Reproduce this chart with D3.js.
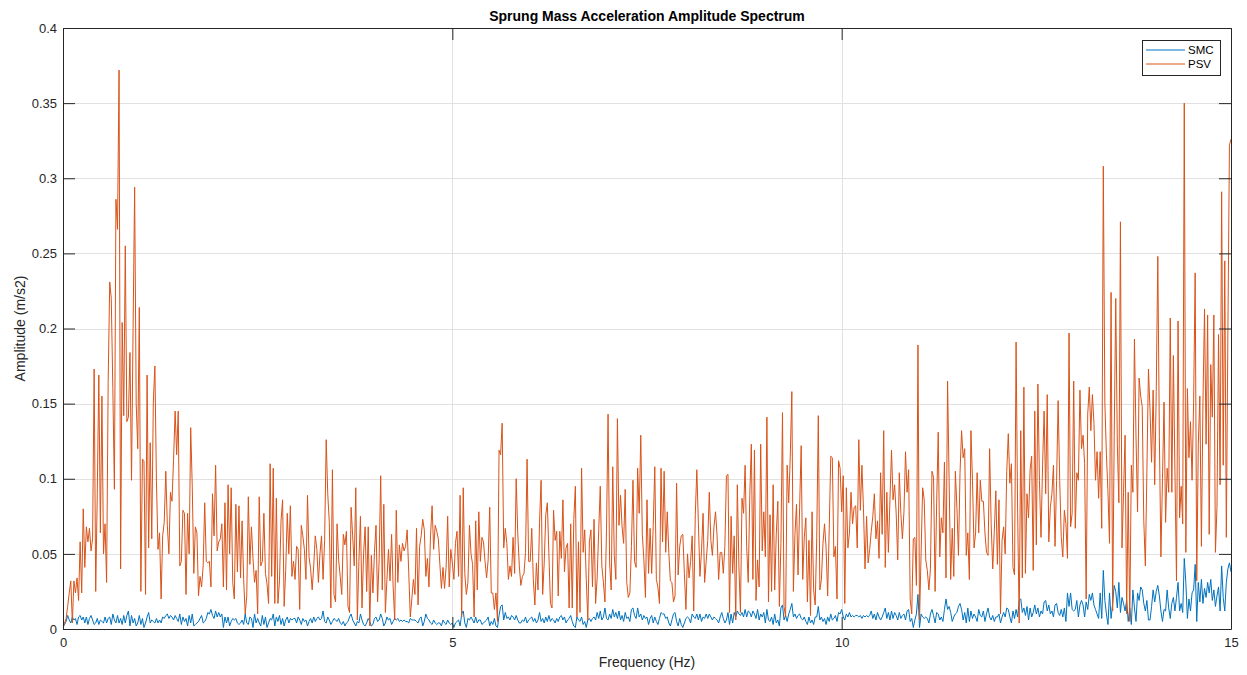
<!DOCTYPE html>
<html>
<head>
<meta charset="utf-8">
<title>Sprung Mass Acceleration Amplitude Spectrum</title>
<script src="https://cdn.jsdelivr.net/npm/d3@7"></script>
<style>
  html, body { margin: 0; padding: 0; background: #ffffff; }
  svg { display: block; font-family: "Liberation Sans", Arial, Helvetica, sans-serif; }
</style>
</head>
<body>
<svg id="chart" width="1247" height="675"></svg>
<script>
// ---- data ---------------------------------------------------------------
const freqStep = 0.02;                       // Hz between spectrum bins
const seriesNames = ["SMC", "PSV"];
const seriesColors = ["#0072BD", "#D95319"];
const xTickValues = [0, 5, 10, 15];
const xTickLabels = ["0", "5", "10", "15"];
const yTickValues = [0, 0.05, 0.1, 0.15, 0.2, 0.25, 0.3, 0.35, 0.4];
const yTickLabels = ["0", "0.05", "0.1", "0.15", "0.2", "0.25", "0.3", "0.35", "0.4"];

// amplitude (m/s2), one row per 0.5 Hz band (25 bins each), plus the 15 Hz bin
const smcBands = [
  [.001,.003,.005,.009,.006,.004,.008,.006,.007,.003,.008,.009,.006,.008,.004,.008,.003,.007,.009,.006,.003,.004,.007,.003,.006],
  [.005,.004,.008,.004,.007,.008,.003,.010,.006,.004,.009,.004,.007,.003,.009,.004,.009,.012,.002,.009,.004,.007,.002,.004,.009],
  [.003,.007,.001,.004,.008,.011,.004,.006,.005,.004,.007,.004,.006,.004,.008,.007,.009,.010,.007,.009,.008,.006,.009,.007,.005],
  [.010,.003,.008,.005,.007,.002,.009,.004,.010,.002,.003,.004,.005,.007,.009,.004,.005,.007,.011,.010,.013,.009,.007,.012,.008],
  [.011,.008,.010,.001,.008,.004,.008,.002,.005,.007,.006,.007,.004,.003,.004,.006,.003,.010,.004,.003,.008,.007,.001,.010,.004],
  [.007,.004,.002,.009,.003,.008,.001,.004,.007,.006,.010,.002,.008,.005,.009,.003,.007,.002,.006,.008,.004,.007,.006,.007,.007],
  [.004,.008,.006,.003,.007,.005,.006,.002,.005,.007,.004,.008,.005,.007,.008,.006,.007,.012,.005,.004,.008,.006,.003,.005,.007],
  [.006,.005,.007,.004,.003,.005,.002,.004,.005,.008,.010,.006,.004,.002,.005,.004,.010,.006,.003,.002,.004,.007,.005,.002,.003],
  [.007,.008,.005,.006,.010,.007,.002,.004,.008,.006,.007,.003,.005,.007,.006,.007,.005,.006,.005,.006,.005,.005,.004,.007,.006],
  [.006,.006,.005,.004,.007,.008,.002,.005,.010,.007,.006,.004,.003,.006,.004,.003,.004,.004,.002,.006,.004,.003,.006,.004,.003],
  [.004,.001,.004,.005,.006,.002,.010,.012,.004,.001,.007,.006,.008,.006,.004,.008,.004,.006,.006,.003,.004,.005,.006,.008,.002],
  [.005,.003,.007,.002,.001,.009,.015,.016,.006,.011,.007,.008,.006,.009,.008,.006,.009,.006,.004,.004,.006,.005,.008,.004,.006],
  [.007,.008,.005,.007,.004,.006,.011,.005,.007,.004,.008,.005,.009,.005,.007,.006,.004,.007,.005,.008,.009,.006,.008,.004,.006],
  [.007,.009,.005,.002,.001,.008,.006,.005,.008,.003,.005,.001,.006,.007,.005,.007,.008,.006,.011,.007,.012,.006,.008,.014,.007],
  [.006,.010,.007,.013,.008,.011,.007,.012,.006,.009,.005,.011,.007,.008,.005,.013,.014,.009,.007,.014,.008,.010,.006,.009,.007],
  [.008,.003,.007,.009,.004,.008,.005,.003,.007,.011,.010,.010,.007,.008,.004,.002,.006,.010,.011,.005,.002,.007,.003,.001,.004],
  [.007,.008,.007,.004,.010,.008,.007,.010,.006,.010,.005,.008,.007,.010,.007,.010,.008,.006,.008,.007,.006,.004,.008,.011,.007],
  [.004,.006,.011,.003,.010,.004,.011,.008,.012,.010,.009,.011,.008,.013,.008,.012,.011,.008,.012,.010,.007,.013,.006,.010,.008],
  [.011,.004,.013,.006,.005,.008,.003,.010,.004,.006,.002,.014,.016,.006,.009,.005,.010,.013,.017,.008,.010,.007,.009,.010,.007],
  [.006,.008,.005,.003,.008,.004,.006,.003,.008,.008,.015,.006,.008,.005,.007,.003,.008,.005,.010,.006,.007,.009,.005,.011,.010],
  [.013,.008,.006,.010,.008,.011,.008,.009,.008,.009,.009,.008,.009,.007,.009,.008,.009,.008,.009,.012,.007,.010,.006,.011,.008],
  [.006,.008,.011,.014,.007,.011,.006,.012,.007,.011,.009,.006,.011,.007,.009,.010,.006,.012,.013,.005,.007,.001,.006,.010,.023],
  [.001,.010,.008,.007,.008,.007,.004,.010,.013,.009,.004,.011,.010,.006,.008,.005,.013,.020,.013,.015,.011,.005,.008,.010,.011],
  [.015,.017,.013,.006,.011,.004,.014,.005,.012,.007,.010,.008,.005,.013,.009,.008,.012,.005,.010,.014,.008,.006,.009,.005,.008],
  [.008,.010,.004,.008,.011,.008,.014,.013,.008,.004,.012,.007,.013,.008,.019,.020,.011,.014,.009,.015,.006,.014,.008,.011,.016],
  [.010,.014,.008,.012,.010,.018,.019,.012,.016,.010,.012,.008,.016,.017,.011,.009,.013,.008,.014,.005,.024,.015,.024,.013,.012],
  [.013,.019,.008,.016,.019,.016,.008,.018,.013,.023,.019,.024,.016,.013,.010,.007,.024,.007,.039,.019,.010,.003,.024,.007,.017],
  [.029,.025,.014,.031,.011,.021,.017,.012,.019,.005,.014,.003,.026,.014,.005,.024,.019,.028,.026,.017,.012,.019,.006,.006,.015],
  [.026,.018,.025,.029,.022,.012,.005,.013,.012,.026,.014,.007,.017,.021,.012,.021,.031,.012,.017,.011,.047,.031,.007,.020,.012],
  [.024,.026,.043,.005,.031,.018,.033,.017,.027,.021,.031,.024,.033,.019,.026,.015,.022,.028,.012,.042,.021,.012,.031,.040,.044],
  [.038]
];

const psvBands = [
  [.001,.004,.007,.015,.024,.032,.004,.032,.024,.034,.019,.058,.024,.080,.041,.068,.058,.067,.052,.060,.173,.025,.090,.169,.064],
  [.155,.050,.070,.031,.164,.231,.220,.160,.093,.286,.266,.372,.040,.204,.142,.255,.138,.141,.184,.099,.200,.294,.150,.120,.214],
  [.025,.113,.112,.023,.169,.054,.124,.060,.151,.175,.098,.053,.064,.020,.062,.071,.105,.069,.050,.091,.085,.113,.145,.116,.145],
  [.042,.045,.079,.077,.023,.077,.050,.134,.095,.037,.068,.064,.022,.035,.028,.042,.084,.045,.044,.045,.028,.090,.062,.109,.052],
  [.058,.060,.070,.028,.084,.026,.096,.050,.094,.031,.020,.083,.038,.082,.034,.072,.033,.010,.022,.088,.043,.068,.047,.031,.039],
  [.010,.088,.042,.045,.077,.037,.030,.017,.110,.035,.107,.017,.087,.017,.032,.072,.086,.015,.039,.077,.050,.082,.035,.045,.033],
  [.055,.053,.013,.069,.062,.053,.033,.089,.048,.040,.026,.042,.062,.053,.031,.050,.062,.033,.059,.126,.090,.071,.014,.106,.023],
  [.018,.070,.046,.035,.023,.063,.056,.065,.015,.011,.081,.062,.042,.094,.006,.045,.075,.014,.050,.068,.025,.068,.002,.049,.024],
  [.051,.069,.018,.046,.102,.026,.083,.011,.033,.053,.032,.063,.028,.006,.079,.031,.056,.045,.057,.052,.055,.066,.038,.008,.020],
  [.033,.023,.067,.016,.055,.062,.073,.066,.035,.047,.028,.062,.082,.053,.069,.065,.060,.043,.027,.041,.027,.041,.075,.028,.053],
  [.044,.033,.057,.065,.035,.089,.008,.094,.037,.023,.031,.069,.050,.043,.008,.072,.026,.078,.045,.061,.058,.045,.034,.046,.081],
  [.024,.024,.013,.024,.005,.119,.116,.137,.054,.067,.057,.033,.042,.035,.061,.037,.100,.064,.042,.029,.035,.037,.051,.113,.045],
  [.045,.067,.033,.016,.044,.026,.071,.099,.023,.044,.076,.084,.050,.017,.014,.079,.059,.065,.022,.065,.047,.086,.038,.054,.057],
  [.014,.070,.014,.073,.095,.008,.058,.011,.107,.051,.066,.033,.006,.058,.066,.028,.073,.017,.034,.066,.095,.042,.031,.018,.066],
  [.143,.044,.026,.108,.049,.033,.140,.069,.089,.068,.057,.093,.031,.021,.024,.055,.099,.045,.041,.107,.077,.129,.063,.046,.021],
  [.086,.037,.067,.037,.069,.108,.033,.028,.017,.107,.058,.105,.051,.078,.051,.032,.031,.018,.022,.097,.036,.055,.062,.063,.037],
  [.013,.050,.034,.045,.062,.012,.076,.106,.070,.035,.052,.077,.031,.045,.059,.091,.059,.049,.068,.078,.062,.033,.051,.051,.037],
  [.055,.102,.103,.011,.075,.037,.062,.006,.096,.042,.011,.087,.077,.109,.055,.031,.089,.123,.033,.119,.019,.046,.028,.123,.052],
  [.078,.048,.141,.018,.076,.025,.096,.026,.063,.085,.015,.057,.144,.015,.008,.109,.084,.115,.158,.025,.063,.083,.036,.081,.122],
  [.033,.061,.074,.018,.059,.009,.078,.026,.016,.061,.142,.026,.033,.057,.070,.054,.022,.066,.115,.114,.048,.055,.020,.112,.107],
  [.078,.102,.017,.094,.054,.064,.091,.070,.081,.082,.054,.126,.079,.109,.080,.040,.075,.044,.053,.065,.075,.090,.060,.072,.047],
  [.104,.063,.132,.041,.091,.051,.086,.119,.086,.096,.077,.046,.104,.077,.060,.078,.118,.091,.106,.020,.010,.060,.061,.029,.189],
  [.006,.050,.094,.086,.046,.039,.026,.040,.105,.101,.025,.084,.131,.048,.074,.064,.111,.034,.165,.099,.033,.067,.035,.105,.081],
  [.049,.104,.132,.114,.120,.049,.064,.033,.132,.099,.054,.064,.104,.064,.099,.085,.085,.064,.051,.049,.120,.070,.040,.065,.092],
  [.043,.086,.010,.059,.068,.050,.105,.130,.097,.110,.041,.036,.191,.077,.004,.132,.034,.161,.037,.090,.074,.106,.115,.039,.145],
  [.056,.163,.099,.061,.109,.145,.090,.156,.058,.081,.090,.109,.055,.099,.152,.099,.061,.048,.079,.070,.047,.197,.068,.077,.165],
  [.067,.104,.099,.159,.120,.129,.110,.020,.143,.161,.132,.156,.137,.099,.118,.087,.118,.067,.308,.151,.116,.091,.057,.224,.012],
  [.128,.220,.123,.084,.271,.054,.091,.129,.010,.091,.005,.109,.091,.193,.128,.078,.167,.155,.148,.072,.042,.105,.173,.146,.111],
  [.159,.096,.158,.248,.128,.048,.100,.151,.071,.107,.091,.207,.091,.182,.105,.032,.205,.074,.095,.070,.350,.051,.160,.114,.138],
  [.099,.151,.237,.032,.123,.155,.055,.151,.213,.123,.209,.063,.176,.141,.209,.051,.081,.196,.096,.291,.109,.245,.061,.197,.322],
  [.326]
];

// ---- layout -------------------------------------------------------------
const W = 1247, H = 675;
const plot = { left: 63, right: 1231, top: 28, bottom: 629 };
const axisColor = "#262626";
const gridColor = "#e1e1e1";
const tickLen = 12;

const svg = d3.select("#chart");
svg.append("rect").attr("width", W).attr("height", H).attr("fill", "#ffffff");

const x = d3.scaleLinear().domain([0, 15]).range([plot.left, plot.right]);
const y = d3.scaleLinear().domain([0, 0.4]).range([plot.bottom, plot.top]);

const toPoints = bands => bands.flat().map((v, i) => ({ f: i * freqStep, a: v }));
const series = [toPoints(smcBands), toPoints(psvBands)];

// plot background
svg.append("rect")
  .attr("x", plot.left).attr("y", plot.top)
  .attr("width", plot.right - plot.left).attr("height", plot.bottom - plot.top)
  .attr("fill", "#ffffff");

// grid
const grid = svg.append("g").attr("stroke", gridColor).attr("stroke-width", 1).attr("shape-rendering", "crispEdges");
grid.selectAll("line.gx").data(xTickValues).join("line")
  .attr("x1", d => Math.round(x(d)) + 0.5).attr("x2", d => Math.round(x(d)) + 0.5)
  .attr("y1", plot.top).attr("y2", plot.bottom);
grid.selectAll("line.gy").data(yTickValues).join("line")
  .attr("x1", plot.left).attr("x2", plot.right)
  .attr("y1", d => Math.round(y(d)) + 0.5).attr("y2", d => Math.round(y(d)) + 0.5);

// clip for data lines
svg.append("clipPath").attr("id", "plotClip").append("rect")
  .attr("x", plot.left).attr("y", plot.top)
  .attr("width", plot.right - plot.left).attr("height", plot.bottom - plot.top);

const line = d3.line().x(d => x(d.f)).y(d => y(d.a));
const lines = svg.append("g").attr("clip-path", "url(#plotClip)");
series.forEach((s, k) => {
  lines.append("path")
    .datum(s)
    .attr("fill", "none")
    .attr("stroke", seriesColors[k])
    .attr("stroke-width", 1)
    .attr("stroke-linejoin", "round")
    .attr("d", line);
});

// axes (box with inward ticks on all four sides)
const xAxisBottom = d3.axisBottom(x).tickValues(xTickValues)
  .tickFormat((d, i) => xTickLabels[i]).tickSizeInner(-tickLen).tickSizeOuter(0).tickPadding(9);
const xAxisTop = d3.axisTop(x).tickValues(xTickValues).tickFormat("").tickSizeInner(-tickLen).tickSizeOuter(0);
const yAxisLeft = d3.axisLeft(y).tickValues(yTickValues)
  .tickFormat((d, i) => yTickLabels[i]).tickSizeInner(-tickLen).tickSizeOuter(0).tickPadding(6);
const yAxisRight = d3.axisRight(y).tickValues(yTickValues).tickFormat("").tickSizeInner(-tickLen).tickSizeOuter(0);

function styleAxis(g) {
  g.select(".domain").attr("stroke", axisColor).attr("stroke-width", 1);
  g.selectAll(".tick line").attr("stroke", axisColor).attr("stroke-width", 1);
  g.selectAll(".tick text").attr("fill", axisColor)
    .style("font-family", "'Liberation Sans', Arial, Helvetica, sans-serif")
    .style("font-size", "13px");
}

svg.append("g").attr("transform", `translate(0,${plot.bottom})`).call(xAxisBottom).call(styleAxis);
svg.append("g").attr("transform", `translate(0,${plot.top})`).call(xAxisTop).call(styleAxis);
svg.append("g").attr("transform", `translate(${plot.left},0)`).call(yAxisLeft).call(styleAxis);
svg.append("g").attr("transform", `translate(${plot.right},0)`).call(yAxisRight).call(styleAxis);

// titles
svg.append("text")
  .attr("x", (plot.left + plot.right) / 2).attr("y", 21)
  .attr("text-anchor", "middle").attr("fill", "#000000")
  .style("font-size", "14px").style("font-weight", "bold")
  .text("Sprung Mass Acceleration Amplitude Spectrum");

svg.append("text")
  .attr("x", (plot.left + plot.right) / 2).attr("y", 667)
  .attr("text-anchor", "middle").attr("fill", axisColor)
  .style("font-size", "14px")
  .text("Frequency (Hz)");

svg.append("text")
  .attr("transform", `translate(25,${(plot.top + plot.bottom) / 2}) rotate(-90)`)
  .attr("text-anchor", "middle").attr("fill", axisColor)
  .style("font-size", "14px")
  .text("Amplitude (m/s2)");

// legend
const legend = svg.append("g");
legend.append("rect")
  .attr("x", 1142.5).attr("y", 40.5).attr("width", 78).attr("height", 35)
  .attr("fill", "#ffffff").attr("stroke", axisColor).attr("stroke-width", 1);
seriesNames.forEach((name, k) => {
  const cy = 50 + k * 14;
  legend.append("line")
    .attr("x1", 1146).attr("x2", 1185).attr("y1", cy).attr("y2", cy)
    .attr("stroke", seriesColors[k]).attr("stroke-width", 1);
  legend.append("text")
    .attr("x", 1188).attr("y", cy + 4)
    .attr("fill", "#000000").style("font-size", "11.5px")
    .text(name);
});
</script>
</body>
</html>
